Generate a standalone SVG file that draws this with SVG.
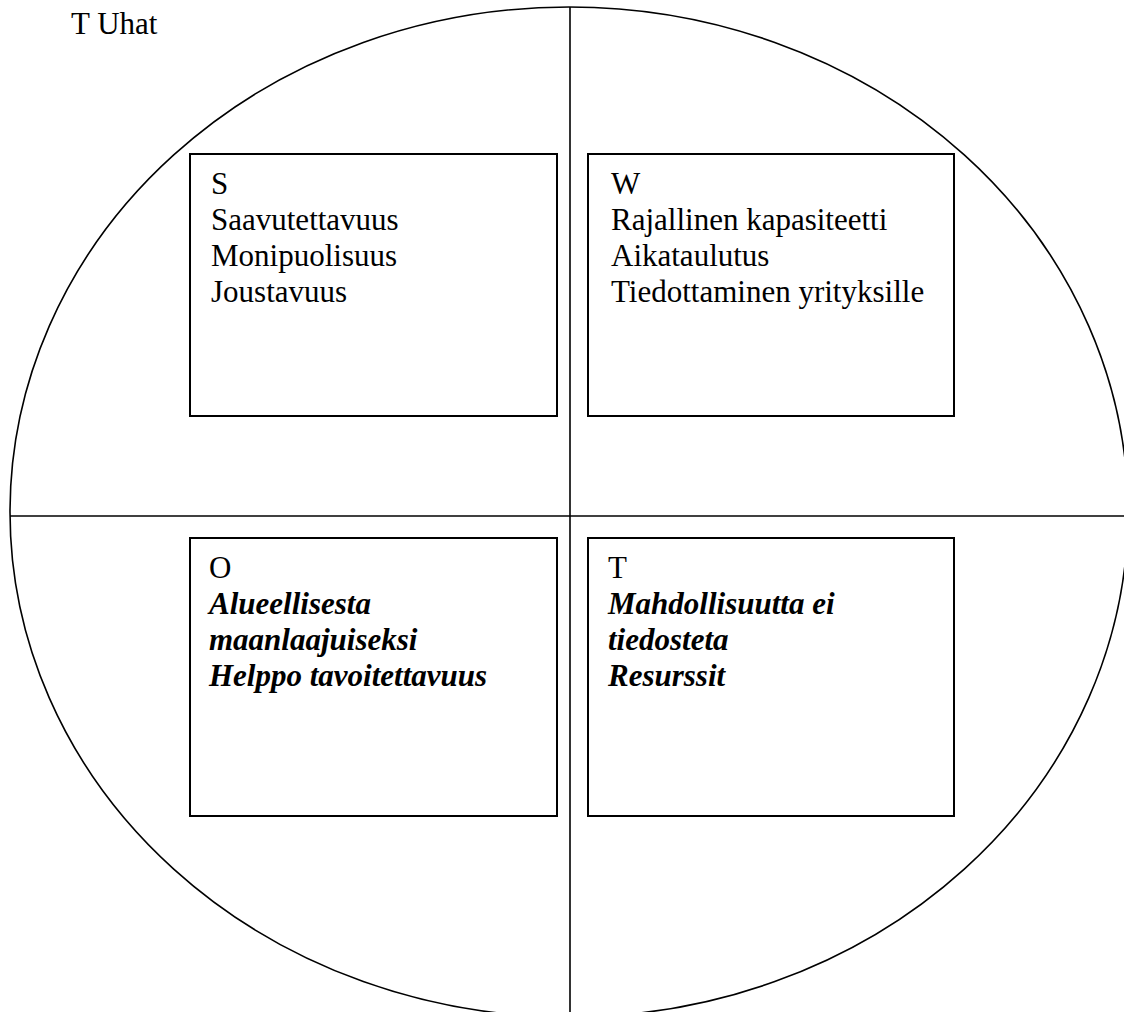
<svg xmlns="http://www.w3.org/2000/svg" width="1124" height="1012" viewBox="0 0 1124 1012">
<style>
.ln{fill:none;stroke:#000;stroke-width:1.6}
.box{fill:#fff;stroke:#000;stroke-width:2}
.t{font-family:"Liberation Serif","Times New Roman",serif;font-size:31px;fill:#000}
.bi{font-weight:bold;font-style:italic}
</style>
<rect width="1124" height="1012" fill="#fff"/>
<text class="t" x="71" y="34">T Uhat</text>
<g id="connectors">
<ellipse class="ln" cx="569" cy="512" rx="559" ry="505"/>
<line class="ln" x1="570" y1="7" x2="570" y2="1012"/>
<line class="ln" x1="10" y1="516" x2="1124" y2="516"/>
</g>
<g id="node-s">
<rect class="box" x="190" y="154" width="367" height="262"/>
<text class="t" x="211" y="194">S</text>
<text class="t" x="211" y="230">Saavutettavuus</text>
<text class="t" x="211" y="266">Monipuolisuus</text>
<text class="t" x="211" y="302">Joustavuus</text>
</g>
<g id="node-w">
<rect class="box" x="588" y="154" width="366" height="262"/>
<text class="t" x="611" y="194">W</text>
<text class="t" x="611" y="230">Rajallinen kapasiteetti</text>
<text class="t" x="611" y="266">Aikataulutus</text>
<text class="t" x="611" y="302">Tiedottaminen yrityksille</text>
</g>
<g id="node-o">
<rect class="box" x="190" y="538" width="367" height="278"/>
<text class="t" x="209" y="578">O</text>
<text class="t bi" x="209" y="614">Alueellisesta</text>
<text class="t bi" x="209" y="650">maanlaajuiseksi</text>
<text class="t bi" x="209" y="686">Helppo tavoitettavuus</text>
</g>
<g id="node-t">
<rect class="box" x="588" y="538" width="366" height="278"/>
<text class="t" x="608" y="578">T</text>
<text class="t bi" x="608" y="614">Mahdollisuutta ei</text>
<text class="t bi" x="608" y="650">tiedosteta</text>
<text class="t bi" x="608" y="686">Resurssit</text>
</g>
</svg>
